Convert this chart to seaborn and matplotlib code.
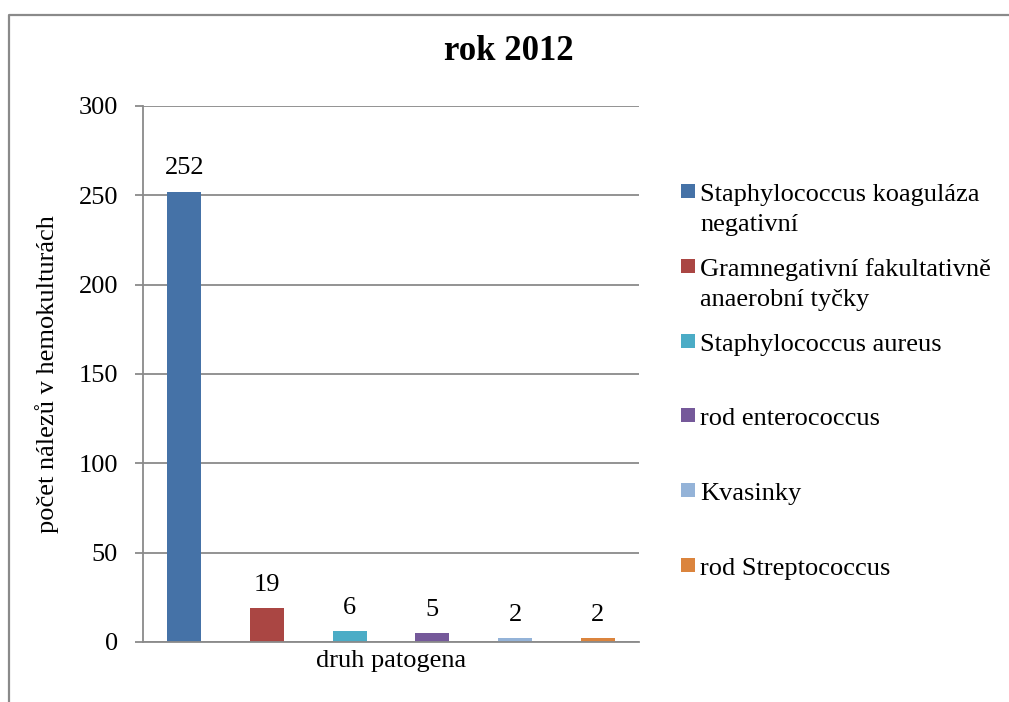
import matplotlib
matplotlib.use("Agg")
import matplotlib.pyplot as plt
from matplotlib.patches import Rectangle
from matplotlib.lines import Line2D
import seaborn as sns
import pandas as pd

# Blood-culture findings by pathogen type, year 2012
species = [
    "Staphylococcus koaguláza\nnegativní",
    "Gramnegativní fakultativně\nanaerobní tyčky",
    "Staphylococcus aureus",
    "rod enterococcus",
    "Kvasinky",
    "rod Streptococcus",
]
counts = [252, 19, 6, 5, 2, 2]
colors = ["#4572A7", "#AA4643", "#4BACC6", "#75599A", "#94B3D8", "#DB843D"]
yticks = [0, 50, 100, 150, 200, 250, 300]

title = "rok 2012"
xlabel = "druh patogena"
ylabel = "počet nálezů v hemokulturách"

sns.set_style("white")
plt.rcParams["font.family"] = ["Liberation Serif", "DejaVu Serif"]
plt.rcParams["font.size"] = 19
plt.rcParams["text.color"] = "black"
plt.rcParams["axes.labelcolor"] = "black"
plt.rcParams["ytick.labelcolor"] = "black"

W, H = 1009, 702
fig = plt.figure(figsize=(W / 100, H / 100), dpi=100)
ax = fig.add_axes([143 / W, 1 - 642 / H, (639 - 143) / W, (642 - 106) / H])

df = pd.DataFrame({"druh": species, "pocet": counts})
sns.barplot(data=df, x="druh", y="pocet", hue="druh", palette=colors,
            width=0.41, saturation=1, legend=False, linewidth=0, ax=ax)

for cont in ax.containers:
    ax.bar_label(cont, fmt="%d", padding=9, fontsize=19, color="black")

grey = "#8a8a8a"
ax.set_ylim(0, 300)
ax.set_xlim(-0.5, len(species) - 0.5)
ax.set_yticks(yticks)
ax.set_yticklabels([str(v) for v in yticks], fontsize=19)
ax.set_xticks([])
ax.yaxis.grid(True, color=grey, linewidth=1.3)
ax.set_axisbelow(True)
ax.tick_params(axis="y", length=6, width=1.3, color=grey, pad=12, left=True,
               labelcolor="black")
for side in ["top", "right"]:
    ax.spines[side].set_visible(False)
for side in ["left", "bottom"]:
    ax.spines[side].set_color(grey)
    ax.spines[side].set_linewidth(1.3)

ax.set_xlabel(xlabel, fontsize=19, labelpad=6, color="black")
ax.set_ylabel(ylabel, fontsize=19, labelpad=14, color="black")

fig.text(509 / W, 1 - 52 / H, title, ha="center", va="center",
         fontsize=25, fontweight="bold", color="black")

# Legend: colour squares with labels, evenly spaced
for i, (name, col) in enumerate(zip(species, colors)):
    yc = 191 + i * 74.8
    fig.add_artist(Rectangle((681 / W, 1 - (yc + 7) / H), 14 / W, 14 / H,
                             transform=fig.transFigure, facecolor=col,
                             edgecolor="none"))
    for k, line in enumerate(name.split("\n")):
        fig.text(700 / W, 1 - (yc + 10 + 30 * k) / H, line, ha="left",
                 va="baseline", fontsize=19, color="black")

# Outer chart frame
fig.add_artist(Line2D([8.5 / W, 8.5 / W, 1.01], [-0.01, 1 - 14.5 / H, 1 - 14.5 / H],
                      transform=fig.transFigure, color=grey, linewidth=1.6))

fig.savefig("out.png", dpi=100)
